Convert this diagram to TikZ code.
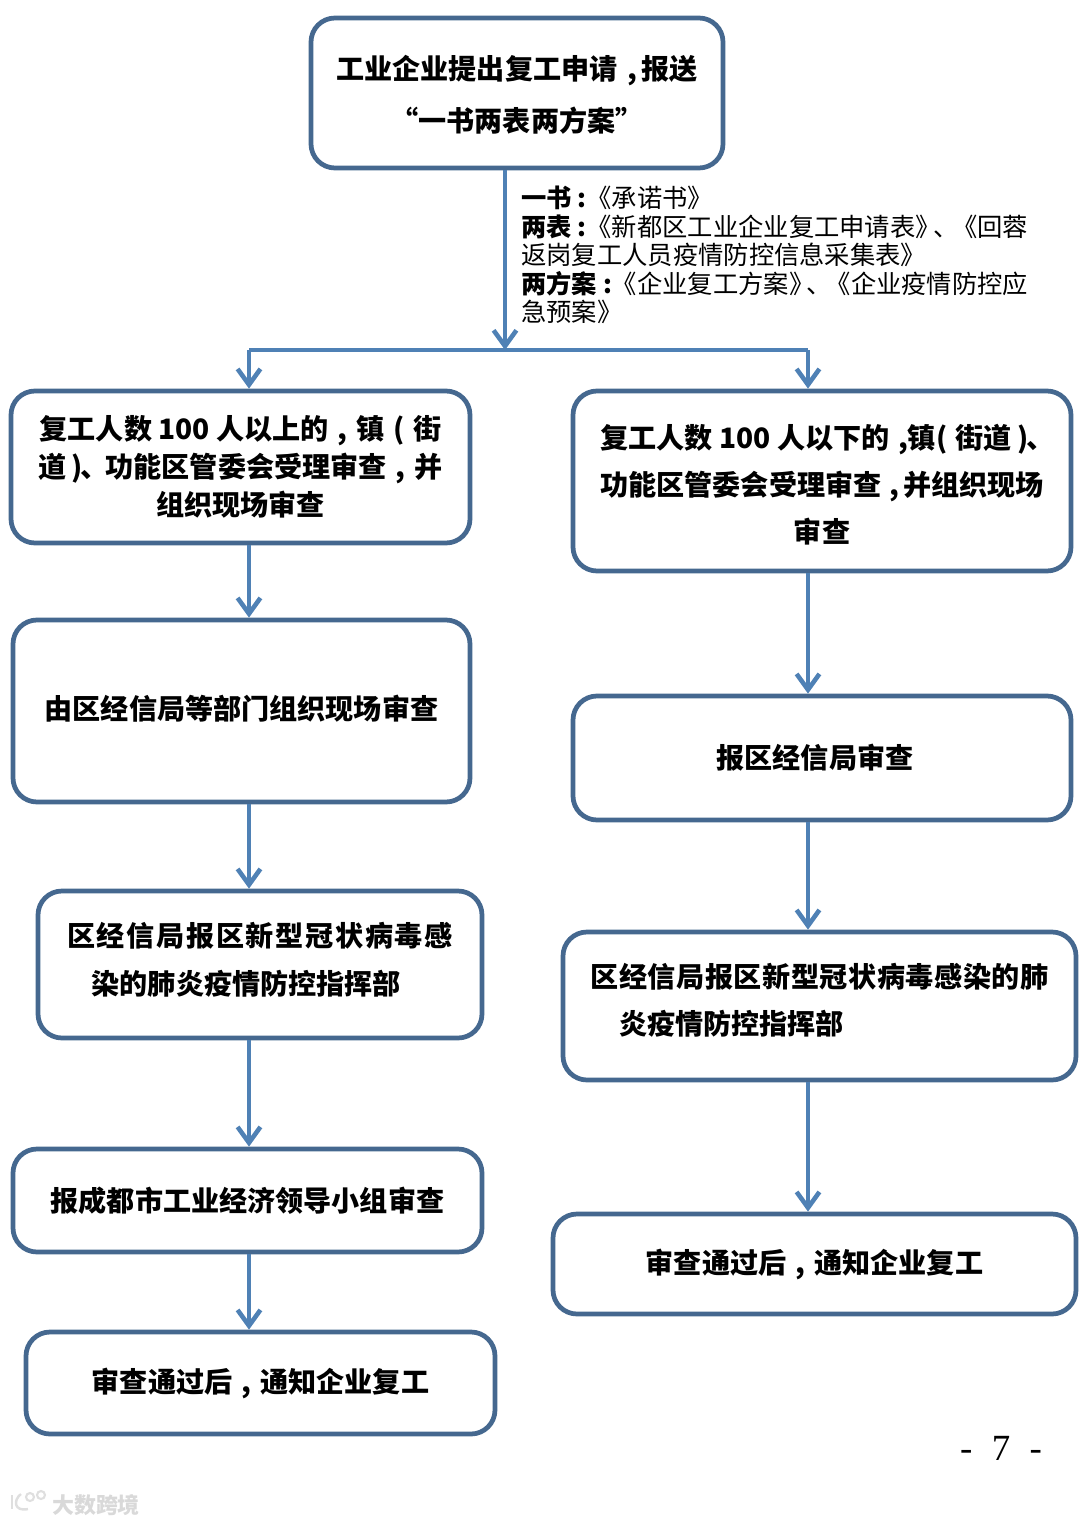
\documentclass[tikz,border=0pt]{standalone}
\usepackage{fontspec}
\setmainfont{Noto Sans CJK SC}
\newfontfamily\pagefont{Liberation Serif}
\usetikzlibrary{arrows.meta}
\definecolor{boxblue}{HTML}{45688F}
\definecolor{arrowblue}{HTML}{4F81B5}
\newcommand{\liftline}[1]{\rule[-#1pt]{0pt}{#1pt}}
\newcommand{\dropline}[1]{\rule{0pt}{#1pt}}
\newcommand{\slotmark}[1]{\makebox[1em][c]{#1}}
\newcommand{\closedun}{\makebox[1.4em][l]{\hspace{.2em})\kern-.1em 、}}
\newcommand{\tightdun}{\kern-.3em 、\kern-.25em }

\begin{document}
\begin{tikzpicture}[x=0.02cm,y=-0.02cm,
	flowbox/.style 2 args={draw=boxblue,line width=2.7pt,rounded corners=0.48cm,
		align=center,inner sep=0pt,minimum width=#1*0.02cm,minimum height=#2*0.02cm},
	lead/.style={font=\bfseries\fontsize{16}{#1}\selectfont},
	flow/.style={draw=arrowblue,line width=2.6pt,-{Straight Barb[length=9pt,width=13pt,line width=2.6pt]}},
	trunk/.style={draw=arrowblue,line width=2.6pt}]
	\useasboundingbox (0,0) rectangle (1080,1524);
	
	%----------------------------
	% Top: application
	%----------------------------
	\node[flowbox={412}{150},lead=29.5] (apply) at (517,93)
	{\dropline{16}工业企业提出复工申请\hspace{.35em},\hspace{.15em}报送\\“一书两表两方案”};
	
	\node[anchor=north west,align=left,inner sep=0pt,
	font=\fontsize{14.4}{16.2}\selectfont] (docs) at (521,186)
	{\textbf{一书 :}《承诺书》\\
		\textbf{两表 :}《新都区工业企业复工申请表》\tightdun《回蓉\\
		返岗复工人员疫情防控信息采集表》\\
		\textbf{两方案 :}《企业复工方案》\tightdun《企业疫情防控应\\
		急预案》};
	
	%----------------------------
	% Left column
	%----------------------------
	\node[flowbox={459}{152},lead=21.5] (left1) at (240.5,467)
	{复工人数 100 人以上的\slotmark{,}镇\slotmark{(}街\\道\closedun 功能区管委会受理审查\slotmark{,}并\\组织现场审查};
	\node[flowbox={457}{182},lead=21.5] (left2) at (241.5,711)
	{由区经信局等部门组织现场审查\liftline{4.5}};
	\node[flowbox={444}{147},lead=27] (left3) at (260,964.5)
	{\addfontfeature{LetterSpace=6}区经信局报区新型冠状病毒感\\染的肺炎疫情防控指挥部\hspace*{15.5pt}\liftline{7}};
	\node[flowbox={469}{103},lead=21.5] (left4) at (247.5,1200.5)
	{报成都市工业经济领导小组审查};
	\node[flowbox={469}{102},lead=21.5] (left5) at (260.5,1383)
	{审查通过后\slotmark{,}通知企业复工};
	
	%----------------------------
	% Right column
	%----------------------------
	\node[flowbox={498}{180},lead=27] (right1) at (822,481)
	{\dropline{18}\hspace*{4.5pt}复工人数 100 人以下的\hspace{.3em},镇(\hspace{.3em}街道\closedun\\功能区管委会受理审查\hspace{.3em},\hspace{.12em}并组织现场\\审查};
	\node[flowbox={498}{124},lead=21.5] (right2) at (822,758)
	{报区经信局审查\hspace*{8pt}};
	\node[flowbox={513}{148},lead=27] (right3) at (819.5,1006)
	{\addfontfeature{LetterSpace=2}区经信局报区新型冠状病毒感染的肺\\炎疫情防控指挥部\hspace*{100pt}\liftline{8.3}};
	\node[flowbox={523}{100},lead=21.5] (right4) at (814.5,1264)
	{审查通过后\slotmark{,}通知企业复工};
	
	%----------------------------
	% Page number and watermark
	%----------------------------
	\node[font=\pagefont\fontsize{21}{21}\selectfont] (pagenum) at (1001,1448) {-\hspace{11pt}7\hspace{11pt}-};
	\node[font=\bfseries\fontsize{12.5}{14}\selectfont,text=gray!30] (mark) at (96,1505) {大数跨境};
	% logo beside the watermark
	\draw[gray!25,line width=1.4pt] (12,1495) -- (12,1509);
	\draw[gray!25,line width=1.4pt] (21,1494) .. controls (13,1500) and (14,1512) .. (28,1509);
	\draw[gray!25,line width=1.2pt] (30,1497) circle (4) (41,1495) circle (4);
	
	%----------------------------
	% Arrows
	%----------------------------
	\coordinate (split) at (505,350);
	\coordinate (splitL) at (249,350);
	\coordinate (splitR) at (808,350);
	
	\draw[flow] (apply.south -| split) -- (split);
	\draw[trunk] (splitL) -- (splitR);
	\draw[flow] (splitL) -- (left1.north -| splitL);
	\draw[flow] (splitR) -- (right1.north -| splitR);
	
	% left chain
	\foreach \from/\to in {left1/left2,left2/left3,left3/left4,left4/left5}
	\draw[flow] (\from.south -| splitL) -- (\to.north -| splitL);
	
	% right chain
	\foreach \from/\to in {right1/right2,right2/right3,right3/right4}
	\draw[flow] (\from.south -| splitR) -- (\to.north -| splitR);
	
\end{tikzpicture}
\end{document}
